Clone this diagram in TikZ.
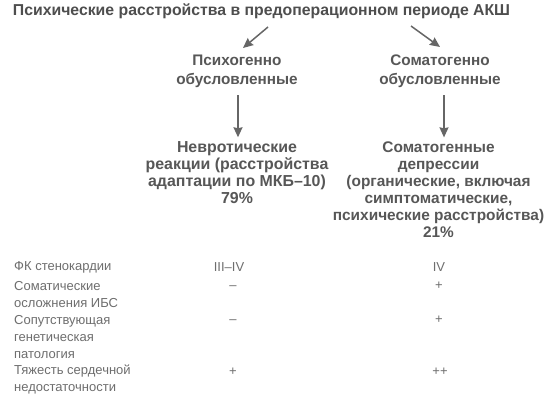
\documentclass[tikz,border=0pt]{standalone}
\usepackage{fontspec}
\setmainfont{Liberation Sans}
\usetikzlibrary{arrows.meta}
\definecolor{tcol}{HTML}{4E4E4E}
\definecolor{mcol}{HTML}{575757}
\definecolor{lcol}{HTML}{6E6E6E}
\definecolor{acol}{HTML}{666666}
\tikzset{
  titletext/.style={font=\bfseries\fontsize{15.8}{18}\selectfont, text=tcol, inner sep=0pt},
  midtext/.style={font=\bfseries\fontsize{15.3}{17}\selectfont, text=mcol, align=center, inner sep=0pt},
  rowlabel/.style={font=\fontsize{13}{17}\selectfont, text=lcol, align=left, anchor=west, inner sep=0pt},
  rowval/.style={font=\fontsize{13}{17}\selectfont, text=lcol, anchor=center, inner sep=0pt},
  arr/.style={draw=acol, line width=1.5pt, -{Stealth[length=10pt,width=9pt,inset=1pt]}},
}
\begin{document}
\begin{tikzpicture}[x=1pt,y=-1pt]
\useasboundingbox[fill=white] (0,0) rectangle (560,402);
\node[titletext] (title) at (261.5,11.5) {Психические расстройства в предоперационном периоде АКШ};
\node[midtext, font=\bfseries\fontsize{15.3}{19}\selectfont] (psy) at (237,71) {Психогенно\\обусловленные};
\node[midtext, font=\bfseries\fontsize{15.3}{19}\selectfont] (som) at (440,71) {Соматогенно\\обусловленные};
\node[midtext, font=\bfseries\fontsize{15.9}{17}\selectfont] (neu) at (237,172.5) {Невротические\\реакции (расстройства\\адаптации по МКБ–10)\\79\%};
\node[midtext, font=\bfseries\fontsize{15.4}{17}\selectfont] (sdep) at (438.5,189.5) {Соматогенные\\депрессии\\(органические, включая\\симптоматические,\\психические расстройства)\\21\%};
\coordinate (ls) at (268,27);
\coordinate (le) at (243,48);
\coordinate (rs) at (411,26);
\coordinate (re) at (440,47);
\draw[arr] (ls) -- (le);
\draw[arr] (rs) -- (re);
\coordinate (lv) at (238,95);
\coordinate (rv) at (444,95);
\draw[arr] (lv) -- ([yshift=4pt]lv |- neu.north);
\draw[arr] (rv) -- ([yshift=4pt]rv |- sdep.north);
% table
\node[rowlabel] (r1) at (14,267) {ФК стенокардии};
\node[rowlabel, anchor=north west] (r2) at (14,281) {Соматические\\осложнения ИБС};
\node[rowlabel, anchor=north west] (r3) at (14,315) {Сопутствующая\\генетическая\\патология};
\node[rowlabel, anchor=north west] (r4) at (14,365) {Тяжесть сердечной\\недостаточности};
\node[rowval] (v11) at (229,267) {III–IV};
\node[rowval] (v12) at (439,267) {IV};
\node[rowval] (v21) at (233,287.5) {–};
\node[rowval] (v22) at (439,286) {+};
\node[rowval] (v31) at (233,321.5) {–};
\node[rowval] (v32) at (439,320) {+};
\node[rowval] (v41) at (233,372) {+};
\node[rowval] (v42) at (440,372) {++};
\end{tikzpicture}
\end{document}
